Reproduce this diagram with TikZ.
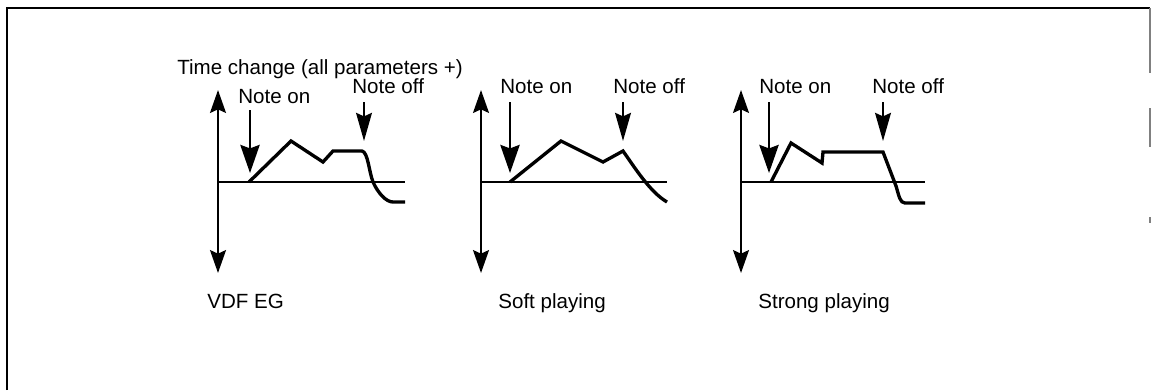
\documentclass[tikz,border=0pt]{standalone}
\usepackage{fontspec}
\setmainfont{Liberation Sans}
\usetikzlibrary{arrows.meta}

\begin{document}
\begin{tikzpicture}[x=0.02cm, y=-0.02cm]
    \tikzstyle{txt} = [inner sep=0pt, anchor=base west, font=\fontsize{11.7}{14}\selectfont]
    \tikzstyle{axis} = [line width=1.5pt, {Stealth[length=13pt, width=9pt, inset=2pt]}-{Stealth[length=13pt, width=9pt, inset=2pt]}]
    \tikzstyle{base} = [line width=1.3pt]
    \tikzstyle{env} = [line width=1.9pt, line join=miter]
    \tikzstyle{onarrow} = [line width=1.2pt, -{Stealth[length=16pt, width=11pt, inset=2pt]}]
    \tikzstyle{offarrow} = [line width=1.2pt, -{Stealth[length=16pt, width=9pt, inset=2pt]}]

    \useasboundingbox (0,0) rectangle (1151,390);

    % frame
    \draw [line width=1.1pt] (7,390) -- (7,8) -- (1150,8);
    \draw [gray, line width=0.6pt] (1150,8) -- (1150,73) (1150,108) -- (1150,147) (1150,217) -- (1150,223);

    % texts
    \node [txt] (title) at (177,74) {Time change (all parameters +)};
    \node [txt] (on1) at (238,103) {Note on};
    \node [txt] (off1) at (352,93) {Note off};
    \node [txt] (on2) at (500,93) {Note on};
    \node [txt] (off2) at (613,93) {Note off};
    \node [txt] (on3) at (759,93) {Note on};
    \node [txt] (off3) at (872,93) {Note off};
    \node [txt] (vdf) at (207,308) {VDF EG};
    \node [txt] (soft) at (498,308) {Soft playing};
    \node [txt] (strong) at (758,308) {Strong playing};

    % axes
    \coordinate (top1) at (218,90);  \coordinate (bot1) at (218,273);
    \coordinate (top2) at (481,90);  \coordinate (bot2) at (481,273);
    \coordinate (top3) at (741,90);  \coordinate (bot3) at (741,273);
    \coordinate (end1) at (405,182); \coordinate (end2) at (667,182); \coordinate (end3) at (925,182);
    \foreach \i in {1,2,3} {
        \draw [axis] (top\i) -- (bot\i);
        \draw [base] (top\i |- end\i) -- (end\i);
    }

    % note on / note off
    \coordinate (on1s) at (250,110); \coordinate (on1t) at (250,173);
    \coordinate (off1s) at (364,102); \coordinate (off1t) at (364,141);
    \coordinate (on2s) at (510,102); \coordinate (on2t) at (510,173);
    \coordinate (off2s) at (623,102); \coordinate (off2t) at (623,141);
    \coordinate (on3s) at (769,102); \coordinate (on3t) at (769,173);
    \coordinate (off3s) at (883,102); \coordinate (off3t) at (883,141);
    \foreach \i in {1,2,3} {
        \draw [onarrow] (on\i s) -- (on\i t);
        \draw [offarrow] (off\i s) -- (off\i t);
    }

    % envelopes
    \draw [env] (249,182) -- (291,141) -- (323,162) -- (333,151) -- (362,151)
        .. controls (368,152) and (369,172) .. (373,182)
        .. controls (378,193) and (386,202) .. (393,202) -- (405,202);
    \draw [env] (510,182) -- (561,141) -- (603,162) -- (623,151)
        .. controls (635,168) and (650,192) .. (667,202);
    \draw [env] (771,182) -- (791,143) -- (822,163) -- (823,152) -- (883,152)
        -- (896,186) .. controls (899,196) and (900,203) .. (905,203) -- (925,203);
\end{tikzpicture}
\end{document}
